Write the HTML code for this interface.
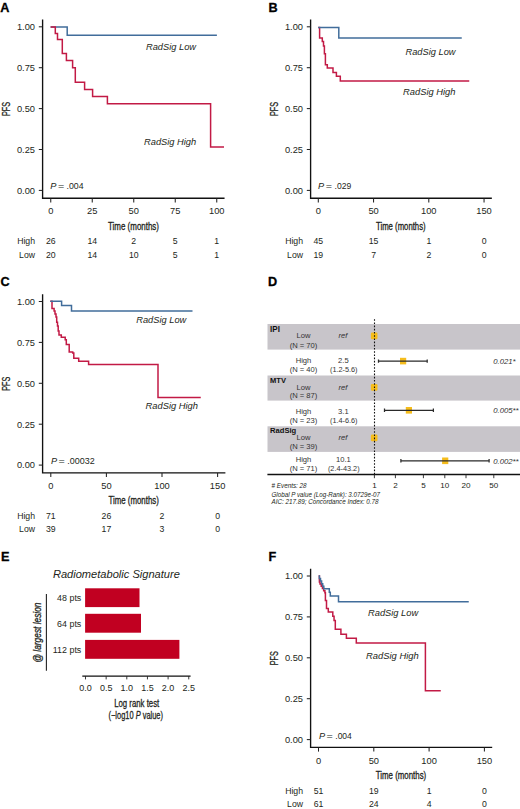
<!DOCTYPE html><html><head><meta charset="utf-8"><style>html,body{margin:0;padding:0;background:#fff;}svg{display:block;}text{font-family:"Liberation Sans",sans-serif;}</style></head><body>
<svg width="520" height="809" viewBox="0 0 520 809" fill="#231f20">
<rect width="520" height="809" fill="#fff"/>
<text x="0.30" y="11.60" font-size="12.7" font-weight="bold" fill="#000" stroke="#000" stroke-width="0.3">A</text>
<path d="M42.60,19.50V198.20H224.55" fill="none" stroke="#111" stroke-width="1.35"/>
<line x1="38.80" y1="26.80" x2="42.60" y2="26.80" stroke="#222" stroke-width="1.05"/>
<text x="35.00" y="30.15" font-size="9.3" text-anchor="end">1.00</text>
<line x1="38.80" y1="67.70" x2="42.60" y2="67.70" stroke="#222" stroke-width="1.05"/>
<text x="35.00" y="71.05" font-size="9.3" text-anchor="end">0.75</text>
<line x1="38.80" y1="108.60" x2="42.60" y2="108.60" stroke="#222" stroke-width="1.05"/>
<text x="35.00" y="111.95" font-size="9.3" text-anchor="end">0.50</text>
<line x1="38.80" y1="149.50" x2="42.60" y2="149.50" stroke="#222" stroke-width="1.05"/>
<text x="35.00" y="152.85" font-size="9.3" text-anchor="end">0.25</text>
<line x1="38.80" y1="190.40" x2="42.60" y2="190.40" stroke="#222" stroke-width="1.05"/>
<text x="35.00" y="193.75" font-size="9.3" text-anchor="end">0.00</text>
<line x1="50.75" y1="198.20" x2="50.75" y2="202.40" stroke="#222" stroke-width="1.05"/>
<text x="50.75" y="214.35" font-size="9.3" text-anchor="middle">0</text>
<line x1="92.25" y1="198.20" x2="92.25" y2="202.40" stroke="#222" stroke-width="1.05"/>
<text x="92.25" y="214.35" font-size="9.3" text-anchor="middle">25</text>
<line x1="133.75" y1="198.20" x2="133.75" y2="202.40" stroke="#222" stroke-width="1.05"/>
<text x="133.75" y="214.35" font-size="9.3" text-anchor="middle">50</text>
<line x1="175.25" y1="198.20" x2="175.25" y2="202.40" stroke="#222" stroke-width="1.05"/>
<text x="175.25" y="214.35" font-size="9.3" text-anchor="middle">75</text>
<line x1="216.75" y1="198.20" x2="216.75" y2="202.40" stroke="#222" stroke-width="1.05"/>
<text x="216.75" y="214.35" font-size="9.3" text-anchor="middle">100</text>
<text x="108.00" y="229.50" font-size="10.5" textLength="51.0" lengthAdjust="spacingAndGlyphs" stroke="#231f20" stroke-width="0.32">Time (months)</text>
<text transform="translate(10.00,109.00) rotate(-90)" font-size="10" text-anchor="middle" textLength="14" lengthAdjust="spacingAndGlyphs" fill="#231f20" stroke="#231f20" stroke-width="0.3">PFS</text>
<text x="50.20" y="189.30" font-size="9.2" font-style="italic">P</text>
<text x="57.90" y="189.30" font-size="9.6" textLength="6.3" lengthAdjust="spacingAndGlyphs" fill="#231f20">=</text>
<text x="66.60" y="189.30" font-size="9.2" textLength="17.0" lengthAdjust="spacingAndGlyphs">.004</text>
<text x="35.00" y="244.35" font-size="8.7" text-anchor="end">High</text>
<text x="35.00" y="257.60" font-size="8.7" text-anchor="end">Low</text>
<text x="50.75" y="244.35" font-size="8.7" text-anchor="middle">26</text>
<text x="50.75" y="257.60" font-size="8.7" text-anchor="middle">20</text>
<text x="92.25" y="244.35" font-size="8.7" text-anchor="middle">14</text>
<text x="92.25" y="257.60" font-size="8.7" text-anchor="middle">14</text>
<text x="133.75" y="244.35" font-size="8.7" text-anchor="middle">2</text>
<text x="133.75" y="257.60" font-size="8.7" text-anchor="middle">10</text>
<text x="175.25" y="244.35" font-size="8.7" text-anchor="middle">5</text>
<text x="175.25" y="257.60" font-size="8.7" text-anchor="middle">5</text>
<text x="216.75" y="244.35" font-size="8.7" text-anchor="middle">1</text>
<text x="216.75" y="257.60" font-size="8.7" text-anchor="middle">1</text>
<path d="M50.6,27.1H67.2V35.3H216.9" fill="none" stroke="#416d9b" stroke-width="1.5" stroke-linejoin="miter"/>
<path d="M50.6,27.1H55.3V33.4H57.5V39.5H62.3V53.4H66.4V60.6H72.6V67.8H75.3V82.2H84.6V89.4H92.6V96.6H107.4V103.8H210.6V146.9H224" fill="none" stroke="#c21a45" stroke-width="1.5" stroke-linejoin="miter"/>
<text x="146.00" y="49.60" font-size="9.3" font-style="italic" textLength="50" lengthAdjust="spacingAndGlyphs">RadSig Low</text>
<text x="144.00" y="145.30" font-size="9.3" font-style="italic" textLength="52.2" lengthAdjust="spacingAndGlyphs">RadSig High</text>
<text x="268.60" y="11.60" font-size="12.7" font-weight="bold" fill="#000" stroke="#000" stroke-width="0.3">B</text>
<path d="M310.60,19.50V198.20H491.85" fill="none" stroke="#111" stroke-width="1.35"/>
<line x1="306.80" y1="26.80" x2="310.60" y2="26.80" stroke="#222" stroke-width="1.05"/>
<text x="303.00" y="30.15" font-size="9.3" text-anchor="end">1.00</text>
<line x1="306.80" y1="67.70" x2="310.60" y2="67.70" stroke="#222" stroke-width="1.05"/>
<text x="303.00" y="71.05" font-size="9.3" text-anchor="end">0.75</text>
<line x1="306.80" y1="108.60" x2="310.60" y2="108.60" stroke="#222" stroke-width="1.05"/>
<text x="303.00" y="111.95" font-size="9.3" text-anchor="end">0.50</text>
<line x1="306.80" y1="149.50" x2="310.60" y2="149.50" stroke="#222" stroke-width="1.05"/>
<text x="303.00" y="152.85" font-size="9.3" text-anchor="end">0.25</text>
<line x1="306.80" y1="190.40" x2="310.60" y2="190.40" stroke="#222" stroke-width="1.05"/>
<text x="303.00" y="193.75" font-size="9.3" text-anchor="end">0.00</text>
<line x1="318.30" y1="198.20" x2="318.30" y2="202.40" stroke="#222" stroke-width="1.05"/>
<text x="318.30" y="214.35" font-size="9.3" text-anchor="middle">0</text>
<line x1="373.55" y1="198.20" x2="373.55" y2="202.40" stroke="#222" stroke-width="1.05"/>
<text x="373.55" y="214.35" font-size="9.3" text-anchor="middle">50</text>
<line x1="428.80" y1="198.20" x2="428.80" y2="202.40" stroke="#222" stroke-width="1.05"/>
<text x="428.80" y="214.35" font-size="9.3" text-anchor="middle">100</text>
<line x1="484.05" y1="198.20" x2="484.05" y2="202.40" stroke="#222" stroke-width="1.05"/>
<text x="484.05" y="214.35" font-size="9.3" text-anchor="middle">150</text>
<text x="376.00" y="229.50" font-size="10.5" textLength="49.6" lengthAdjust="spacingAndGlyphs" stroke="#231f20" stroke-width="0.32">Time (months)</text>
<text transform="translate(278.00,109.00) rotate(-90)" font-size="10" text-anchor="middle" textLength="14" lengthAdjust="spacingAndGlyphs" fill="#231f20" stroke="#231f20" stroke-width="0.3">PFS</text>
<text x="318.10" y="189.30" font-size="9.2" font-style="italic">P</text>
<text x="325.80" y="189.30" font-size="9.6" textLength="6.3" lengthAdjust="spacingAndGlyphs" fill="#231f20">=</text>
<text x="334.50" y="189.30" font-size="9.2" textLength="16.7" lengthAdjust="spacingAndGlyphs">.029</text>
<text x="303.00" y="244.35" font-size="8.7" text-anchor="end">High</text>
<text x="303.00" y="257.60" font-size="8.7" text-anchor="end">Low</text>
<text x="318.30" y="244.35" font-size="8.7" text-anchor="middle">45</text>
<text x="318.30" y="257.60" font-size="8.7" text-anchor="middle">19</text>
<text x="373.55" y="244.35" font-size="8.7" text-anchor="middle">15</text>
<text x="373.55" y="257.60" font-size="8.7" text-anchor="middle">7</text>
<text x="428.80" y="244.35" font-size="8.7" text-anchor="middle">1</text>
<text x="428.80" y="257.60" font-size="8.7" text-anchor="middle">2</text>
<text x="484.05" y="244.35" font-size="8.7" text-anchor="middle">0</text>
<text x="484.05" y="257.60" font-size="8.7" text-anchor="middle">0</text>
<path d="M318.2,27.5H319.6V38H322.3V41.6H323.5V46H324.4V53.7H325.4V64.7H327.3V68H333V72.4H336.4V76.25H340.3V81H469.25" fill="none" stroke="#c21a45" stroke-width="1.5" stroke-linejoin="miter"/>
<path d="M318.2,27.5H338.8V37.9H461.75" fill="none" stroke="#416d9b" stroke-width="1.5" stroke-linejoin="miter"/>
<text x="405.50" y="55.00" font-size="9.3" font-style="italic" textLength="50" lengthAdjust="spacingAndGlyphs">RadSig Low</text>
<text x="403.00" y="95.00" font-size="9.3" font-style="italic" textLength="52.5" lengthAdjust="spacingAndGlyphs">RadSig High</text>
<text x="0.50" y="286.30" font-size="12.7" font-weight="bold" fill="#000" stroke="#000" stroke-width="0.3">C</text>
<path d="M42.60,294.20V472.90H225.40" fill="none" stroke="#111" stroke-width="1.35"/>
<line x1="38.80" y1="301.50" x2="42.60" y2="301.50" stroke="#222" stroke-width="1.05"/>
<text x="35.00" y="304.85" font-size="9.3" text-anchor="end">1.00</text>
<line x1="38.80" y1="342.40" x2="42.60" y2="342.40" stroke="#222" stroke-width="1.05"/>
<text x="35.00" y="345.75" font-size="9.3" text-anchor="end">0.75</text>
<line x1="38.80" y1="383.30" x2="42.60" y2="383.30" stroke="#222" stroke-width="1.05"/>
<text x="35.00" y="386.65" font-size="9.3" text-anchor="end">0.50</text>
<line x1="38.80" y1="424.20" x2="42.60" y2="424.20" stroke="#222" stroke-width="1.05"/>
<text x="35.00" y="427.55" font-size="9.3" text-anchor="end">0.25</text>
<line x1="38.80" y1="465.10" x2="42.60" y2="465.10" stroke="#222" stroke-width="1.05"/>
<text x="35.00" y="468.45" font-size="9.3" text-anchor="end">0.00</text>
<line x1="50.80" y1="472.90" x2="50.80" y2="477.10" stroke="#222" stroke-width="1.05"/>
<text x="50.80" y="489.05" font-size="9.3" text-anchor="middle">0</text>
<line x1="106.40" y1="472.90" x2="106.40" y2="477.10" stroke="#222" stroke-width="1.05"/>
<text x="106.40" y="489.05" font-size="9.3" text-anchor="middle">50</text>
<line x1="162.00" y1="472.90" x2="162.00" y2="477.10" stroke="#222" stroke-width="1.05"/>
<text x="162.00" y="489.05" font-size="9.3" text-anchor="middle">100</text>
<line x1="217.60" y1="472.90" x2="217.60" y2="477.10" stroke="#222" stroke-width="1.05"/>
<text x="217.60" y="489.05" font-size="9.3" text-anchor="middle">150</text>
<text x="108.50" y="504.20" font-size="10.5" textLength="50.3" lengthAdjust="spacingAndGlyphs" stroke="#231f20" stroke-width="0.32">Time (months)</text>
<text transform="translate(10.00,383.70) rotate(-90)" font-size="10" text-anchor="middle" textLength="14" lengthAdjust="spacingAndGlyphs" fill="#231f20" stroke="#231f20" stroke-width="0.3">PFS</text>
<text x="50.90" y="464.00" font-size="9.2" font-style="italic">P</text>
<text x="58.60" y="464.00" font-size="9.6" textLength="6.3" lengthAdjust="spacingAndGlyphs" fill="#231f20">=</text>
<text x="67.30" y="464.00" font-size="9.2" textLength="27.4" lengthAdjust="spacingAndGlyphs">.00032</text>
<text x="35.00" y="519.05" font-size="8.7" text-anchor="end">High</text>
<text x="35.00" y="532.30" font-size="8.7" text-anchor="end">Low</text>
<text x="50.80" y="519.05" font-size="8.7" text-anchor="middle">71</text>
<text x="50.80" y="532.30" font-size="8.7" text-anchor="middle">39</text>
<text x="106.40" y="519.05" font-size="8.7" text-anchor="middle">26</text>
<text x="106.40" y="532.30" font-size="8.7" text-anchor="middle">17</text>
<text x="162.00" y="519.05" font-size="8.7" text-anchor="middle">2</text>
<text x="162.00" y="532.30" font-size="8.7" text-anchor="middle">3</text>
<text x="217.60" y="519.05" font-size="8.7" text-anchor="middle">0</text>
<text x="217.60" y="532.30" font-size="8.7" text-anchor="middle">0</text>
<path d="M50.3,301.3H52V308.4H54.1V311H55V314H56V317H56.7V322.2H57.5V326H58.2V331H59V335H61.3V337.2H65.2V339.8H66.3V344.6H69.2V352H72.7V353H73.8V358.2H78.7V361.3H88.6V364.5H158V397.5H200.75" fill="none" stroke="#c21a45" stroke-width="1.5" stroke-linejoin="miter"/>
<path d="M50.3,301.3H61.6V305.4H71.5V311H192.5" fill="none" stroke="#416d9b" stroke-width="1.5" stroke-linejoin="miter"/>
<text x="136.25" y="322.50" font-size="9.3" font-style="italic" textLength="50" lengthAdjust="spacingAndGlyphs">RadSig Low</text>
<text x="145.50" y="409.25" font-size="9.3" font-style="italic" textLength="52.5" lengthAdjust="spacingAndGlyphs">RadSig High</text>
<text x="268.60" y="560.80" font-size="12.7" font-weight="bold" fill="#000" stroke="#000" stroke-width="0.3">F</text>
<path d="M310.60,568.70V747.40H492.20" fill="none" stroke="#111" stroke-width="1.35"/>
<line x1="306.80" y1="576.00" x2="310.60" y2="576.00" stroke="#222" stroke-width="1.05"/>
<text x="303.00" y="579.35" font-size="9.3" text-anchor="end">1.00</text>
<line x1="306.80" y1="616.90" x2="310.60" y2="616.90" stroke="#222" stroke-width="1.05"/>
<text x="303.00" y="620.25" font-size="9.3" text-anchor="end">0.75</text>
<line x1="306.80" y1="657.80" x2="310.60" y2="657.80" stroke="#222" stroke-width="1.05"/>
<text x="303.00" y="661.15" font-size="9.3" text-anchor="end">0.50</text>
<line x1="306.80" y1="698.70" x2="310.60" y2="698.70" stroke="#222" stroke-width="1.05"/>
<text x="303.00" y="702.05" font-size="9.3" text-anchor="end">0.25</text>
<line x1="306.80" y1="739.60" x2="310.60" y2="739.60" stroke="#222" stroke-width="1.05"/>
<text x="303.00" y="742.95" font-size="9.3" text-anchor="end">0.00</text>
<line x1="318.50" y1="747.40" x2="318.50" y2="751.60" stroke="#222" stroke-width="1.05"/>
<text x="318.50" y="763.55" font-size="9.3" text-anchor="middle">0</text>
<line x1="373.80" y1="747.40" x2="373.80" y2="751.60" stroke="#222" stroke-width="1.05"/>
<text x="373.80" y="763.55" font-size="9.3" text-anchor="middle">50</text>
<line x1="429.10" y1="747.40" x2="429.10" y2="751.60" stroke="#222" stroke-width="1.05"/>
<text x="429.10" y="763.55" font-size="9.3" text-anchor="middle">100</text>
<line x1="484.40" y1="747.40" x2="484.40" y2="751.60" stroke="#222" stroke-width="1.05"/>
<text x="484.40" y="763.55" font-size="9.3" text-anchor="middle">150</text>
<text x="375.80" y="778.70" font-size="10.5" textLength="50.4" lengthAdjust="spacingAndGlyphs" stroke="#231f20" stroke-width="0.32">Time (months)</text>
<text transform="translate(278.00,658.20) rotate(-90)" font-size="10" text-anchor="middle" textLength="14" lengthAdjust="spacingAndGlyphs" fill="#231f20" stroke="#231f20" stroke-width="0.3">PFS</text>
<text x="318.90" y="738.50" font-size="9.2" font-style="italic">P</text>
<text x="326.60" y="738.50" font-size="9.6" textLength="6.3" lengthAdjust="spacingAndGlyphs" fill="#231f20">=</text>
<text x="335.30" y="738.50" font-size="9.2" textLength="16.5" lengthAdjust="spacingAndGlyphs">.004</text>
<text x="303.00" y="793.55" font-size="8.7" text-anchor="end">High</text>
<text x="303.00" y="806.80" font-size="8.7" text-anchor="end">Low</text>
<text x="318.50" y="793.55" font-size="8.7" text-anchor="middle">51</text>
<text x="318.50" y="806.80" font-size="8.7" text-anchor="middle">61</text>
<text x="373.80" y="793.55" font-size="8.7" text-anchor="middle">19</text>
<text x="373.80" y="806.80" font-size="8.7" text-anchor="middle">24</text>
<text x="429.10" y="793.55" font-size="8.7" text-anchor="middle">1</text>
<text x="429.10" y="806.80" font-size="8.7" text-anchor="middle">4</text>
<text x="484.40" y="793.55" font-size="8.7" text-anchor="middle">0</text>
<text x="484.40" y="806.80" font-size="8.7" text-anchor="middle">0</text>
<path d="M318.60,575.90H319.40V581.90H320.00V584.12H321.23V586.35H322.45V588.57H323.67V590.80H324.90V592.70H325.40V600.60H326.50V608.50H327.60H328.30V612.00H332.80V616.20H334.05V620.40H335.30V629.30H336.20H340.90V634.20H346.40V638.20H356.30V642.90H425.40V690.75H440.75" fill="none" stroke="#c21a45" stroke-width="1.5" stroke-linejoin="miter"/>
<path d="M318.60,575.90H319.40V578.48H320.50V581.06H321.60V583.64H322.70V586.22H323.80V588.80H324.90H329.30V592.35H330.30V595.90H331.30H338.50V601.80H339.60H468.75" fill="none" stroke="#416d9b" stroke-width="1.5" stroke-linejoin="miter"/>
<text x="368.00" y="615.60" font-size="9.3" font-style="italic" textLength="50.2" lengthAdjust="spacingAndGlyphs">RadSig Low</text>
<text x="366.00" y="658.50" font-size="9.3" font-style="italic" textLength="52.7" lengthAdjust="spacingAndGlyphs">RadSig High</text>
<text x="268.00" y="285.80" font-size="12.7" font-weight="bold" fill="#000" stroke="#000" stroke-width="0.3">D</text>
<rect x="267.5" y="324.0" width="252.5" height="25.60" fill="#c8c5ca"/>
<rect x="267.5" y="375.5" width="252.5" height="25.10" fill="#c8c5ca"/>
<rect x="267.5" y="426.3" width="252.5" height="25.60" fill="#c8c5ca"/>
<text x="270.10" y="331.90" font-size="8.2" font-weight="bold" textLength="9.8" lengthAdjust="spacingAndGlyphs" fill="#111">IPI</text>
<text x="270.10" y="383.10" font-size="8.0" font-weight="bold" textLength="15.9" lengthAdjust="spacingAndGlyphs" fill="#111">MTV</text>
<text x="270.10" y="433.10" font-size="8.0" font-weight="bold" textLength="26.1" lengthAdjust="spacingAndGlyphs" fill="#111">RadSig</text>
<text x="303.50" y="338.20" font-size="7.6" text-anchor="middle" fill="#333" stroke="none">Low</text>
<text x="303.50" y="347.70" font-size="7.6" text-anchor="middle" fill="#333" stroke="none">(N = 70)</text>
<text x="343.00" y="338.20" font-size="7.6" text-anchor="middle" font-style="italic" fill="#333">ref</text>
<text x="303.50" y="363.45" font-size="7.6" text-anchor="middle" fill="#333" stroke="none">High</text>
<text x="303.50" y="372.20" font-size="7.6" text-anchor="middle" fill="#333" stroke="none">(N = 40)</text>
<text x="343.40" y="363.45" font-size="7.6" text-anchor="middle" fill="#333" stroke="none">2.5</text>
<text x="343.75" y="372.20" font-size="7.3" text-anchor="middle" fill="#333" stroke="none">(1.2-5.6)</text>
<rect x="370.9" y="332.60" width="6.6" height="6.6" rx="1.2" fill="#f6bd1c"/>
<rect x="400.00" y="357.80" width="6.2" height="6.6" fill="#f6bd1c"/>
<path d="M378.50,361.10H427.20M378.50,359.40V362.80M427.20,359.40V362.80" stroke="#2a2a2a" stroke-width="1.25" fill="none"/>
<text x="493.20" y="363.80" font-size="7.75" font-style="italic" fill="#333">0.021*</text>
<text x="303.50" y="389.70" font-size="7.6" text-anchor="middle" fill="#333" stroke="none">Low</text>
<text x="303.50" y="398.30" font-size="7.6" text-anchor="middle" fill="#333" stroke="none">(N = 87)</text>
<text x="343.00" y="389.70" font-size="7.6" text-anchor="middle" font-style="italic" fill="#333">ref</text>
<text x="303.50" y="413.95" font-size="7.6" text-anchor="middle" fill="#333" stroke="none">High</text>
<text x="303.50" y="422.70" font-size="7.6" text-anchor="middle" fill="#333" stroke="none">(N = 23)</text>
<text x="343.40" y="413.95" font-size="7.6" text-anchor="middle" fill="#333" stroke="none">3.1</text>
<text x="343.75" y="422.70" font-size="7.3" text-anchor="middle" fill="#333" stroke="none">(1.4-6.6)</text>
<rect x="370.9" y="384.10" width="6.6" height="6.6" rx="1.2" fill="#f6bd1c"/>
<rect x="405.80" y="407.00" width="6.2" height="6.6" fill="#f6bd1c"/>
<path d="M384.50,410.30H433.40M384.50,408.60V412.00M433.40,408.60V412.00" stroke="#2a2a2a" stroke-width="1.25" fill="none"/>
<text x="493.20" y="413.00" font-size="7.75" font-style="italic" fill="#333">0.005**</text>
<text x="303.50" y="440.20" font-size="7.6" text-anchor="middle" fill="#333" stroke="none">Low</text>
<text x="303.50" y="448.50" font-size="7.6" text-anchor="middle" fill="#333" stroke="none">(N = 39)</text>
<text x="343.00" y="440.20" font-size="7.6" text-anchor="middle" font-style="italic" fill="#333">ref</text>
<text x="303.50" y="461.95" font-size="7.6" text-anchor="middle" fill="#333" stroke="none">High</text>
<text x="303.50" y="470.70" font-size="7.6" text-anchor="middle" fill="#333" stroke="none">(N = 71)</text>
<text x="343.40" y="461.95" font-size="7.6" text-anchor="middle" fill="#333" stroke="none">10.1</text>
<text x="343.75" y="470.70" font-size="7.3" text-anchor="middle" fill="#333" stroke="none">(2.4-43.2)</text>
<rect x="370.9" y="434.60" width="6.6" height="6.6" rx="1.2" fill="#f6bd1c"/>
<rect x="442.10" y="457.50" width="6.2" height="6.6" fill="#f6bd1c"/>
<path d="M400.90,460.80H489.10M400.90,459.10V462.50M489.10,459.10V462.50" stroke="#2a2a2a" stroke-width="1.25" fill="none"/>
<text x="493.20" y="463.50" font-size="7.75" font-style="italic" fill="#333">0.002**</text>
<line x1="374.5" y1="318.8" x2="374.5" y2="474.5" stroke="#111" stroke-width="1.1" stroke-dasharray="1.6,1.6" stroke-dashoffset="2.8"/>
<line x1="267.4" y1="474.5" x2="520" y2="474.5" stroke="#111" stroke-width="1.4"/>
<line x1="374.4" y1="474.5" x2="374.4" y2="478.2" stroke="#222" stroke-width="0.9"/>
<text x="374.40" y="487.90" font-size="8.1" text-anchor="middle">1</text>
<line x1="395.4" y1="474.5" x2="395.4" y2="478.2" stroke="#222" stroke-width="0.9"/>
<text x="395.40" y="487.90" font-size="8.1" text-anchor="middle">2</text>
<line x1="423.4" y1="474.5" x2="423.4" y2="478.2" stroke="#222" stroke-width="0.9"/>
<text x="423.40" y="487.90" font-size="8.1" text-anchor="middle">5</text>
<line x1="444.8" y1="474.5" x2="444.8" y2="478.2" stroke="#222" stroke-width="0.9"/>
<text x="444.80" y="487.90" font-size="8.1" text-anchor="middle">10</text>
<line x1="466.0" y1="474.5" x2="466.0" y2="478.2" stroke="#222" stroke-width="0.9"/>
<text x="466.00" y="487.90" font-size="8.1" text-anchor="middle">20</text>
<line x1="493.8" y1="474.5" x2="493.8" y2="478.2" stroke="#222" stroke-width="0.9"/>
<text x="493.80" y="487.90" font-size="8.1" text-anchor="middle">50</text>
<text x="271.50" y="487.60" font-size="6.3" font-style="italic" textLength="35.1" lengthAdjust="spacingAndGlyphs"># Events: 28</text>
<text x="271.50" y="497.00" font-size="6.3" font-style="italic" textLength="108.5" lengthAdjust="spacingAndGlyphs">Global <tspan>P</tspan> value (Log-Rank): 3.0729e-07</text>
<text x="271.50" y="503.80" font-size="6.3" font-style="italic" textLength="107.1" lengthAdjust="spacingAndGlyphs">AIC: 217.89; Concordance Index: 0.78</text>
<text x="0.90" y="561.00" font-size="12.7" font-weight="bold" fill="#000" stroke="#000" stroke-width="0.3">E</text>
<text x="52.90" y="577.80" font-size="10.8" font-style="italic" textLength="127" lengthAdjust="spacingAndGlyphs">Radiometabolic Signature</text>
<rect x="85.1" y="588.3" width="54.40" height="18.80" fill="#c10021"/>
<text x="81.30" y="601.20" font-size="8.9" text-anchor="end">48 pts</text>
<rect x="85.1" y="613.8" width="55.90" height="18.90" fill="#c10021"/>
<text x="81.30" y="627.20" font-size="8.9" text-anchor="end">64 pts</text>
<rect x="85.1" y="639.9" width="94.30" height="18.90" fill="#c10021"/>
<text x="81.30" y="653.40" font-size="8.9" text-anchor="end">112 pts</text>
<line x1="46.4" y1="594.0" x2="46.4" y2="670.8" stroke="#222" stroke-width="1.1"/>
<text transform="translate(40.6,632.5) rotate(-90)" font-size="10.6" font-style="italic" text-anchor="middle" textLength="60" lengthAdjust="spacingAndGlyphs" fill="#231f20" stroke="#231f20" stroke-width="0.32">@ largest lesion</text>
<line x1="82.3" y1="676.1" x2="190.6" y2="676.1" stroke="#111" stroke-width="1.3"/>
<line x1="85.50" y1="676.1" x2="85.50" y2="679.4" stroke="#222" stroke-width="0.9"/>
<text x="85.50" y="691.20" font-size="9.0" text-anchor="middle">0.0</text>
<line x1="106.15" y1="676.1" x2="106.15" y2="679.4" stroke="#222" stroke-width="0.9"/>
<text x="106.15" y="691.20" font-size="9.0" text-anchor="middle">0.5</text>
<line x1="126.80" y1="676.1" x2="126.80" y2="679.4" stroke="#222" stroke-width="0.9"/>
<text x="126.80" y="691.20" font-size="9.0" text-anchor="middle">1.0</text>
<line x1="147.45" y1="676.1" x2="147.45" y2="679.4" stroke="#222" stroke-width="0.9"/>
<text x="147.45" y="691.20" font-size="9.0" text-anchor="middle">1.5</text>
<line x1="168.10" y1="676.1" x2="168.10" y2="679.4" stroke="#222" stroke-width="0.9"/>
<text x="168.10" y="691.20" font-size="9.0" text-anchor="middle">2.0</text>
<line x1="188.75" y1="676.1" x2="188.75" y2="679.4" stroke="#222" stroke-width="0.9"/>
<text x="188.75" y="691.20" font-size="9.0" text-anchor="middle">2.5</text>
<text x="114.20" y="706.70" font-size="10.6" textLength="45" lengthAdjust="spacingAndGlyphs" stroke="#231f20" stroke-width="0.3">Log rank test</text>
<text x="108.5" y="718.9" font-size="10.6" textLength="54.5" lengthAdjust="spacingAndGlyphs" fill="#231f20" stroke="#231f20" stroke-width="0.3">(−log10 <tspan font-style="italic">P</tspan> value)</text>
</svg></body></html>
